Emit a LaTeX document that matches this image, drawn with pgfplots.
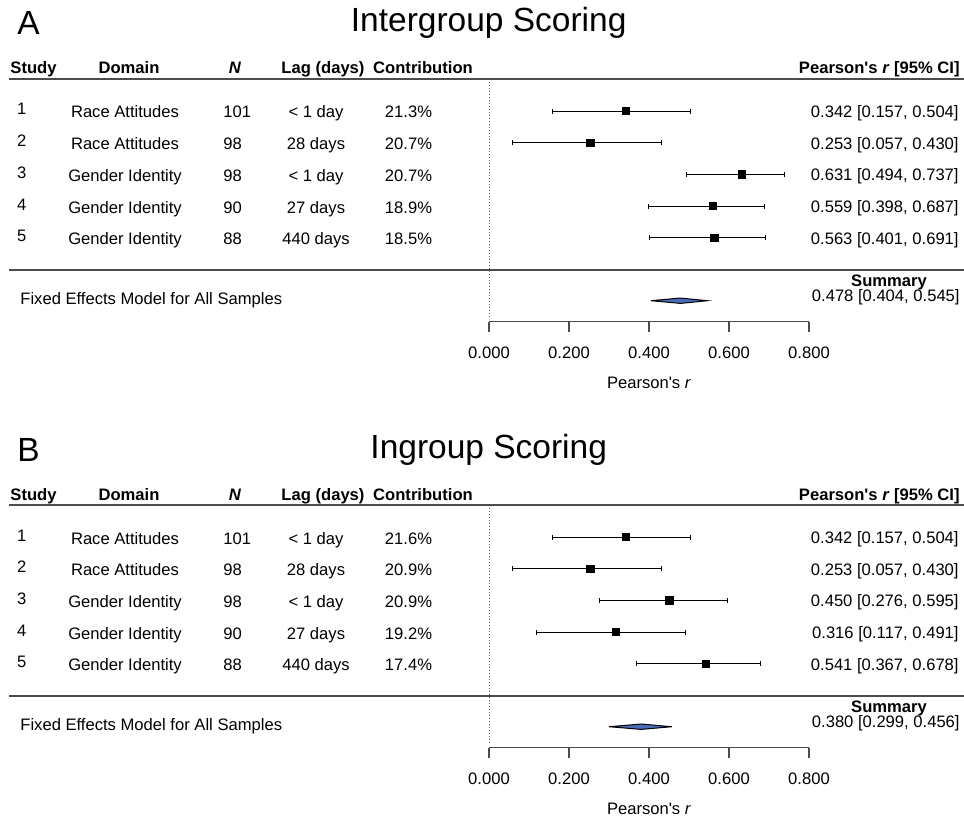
\documentclass[border=0pt]{standalone}
\usepackage{pgfplots}
\usepackage{pgfplotstable}
\pgfplotsset{compat=1.18}
\usepackage{fontspec}
\setmainfont{Liberation Sans}[Ligatures=TeXOff]
\newcommand\fs{\fontsize{8.3pt}{9pt}\selectfont}
\newcommand\fst{\fontsize{16.75pt}{18pt}\selectfont}
\definecolor{diam}{RGB}{74,108,184}

% r, error plus, error minus, row y (pixels from top)
\pgfplotstableread{
r ep em y
0.342 0.162 0.185 111.0
0.253 0.177 0.196 142.7
0.631 0.106 0.137 174.4
0.559 0.128 0.161 206.1
0.563 0.128 0.162 237.8
}\dataA
\pgfplotstableread{
r ep em y
0.342 0.162 0.185 537.0
0.253 0.177 0.196 568.7
0.450 0.145 0.174 600.4
0.316 0.175 0.199 632.1
0.541 0.137 0.174 663.8
}\dataB

\pgfplotsset{
  forest/.style={only marks, mark=square*, mark size=1.85pt, black,
    mark options={solid, fill=black},
    error bars/.cd, x dir=both, x explicit,
    error bar style={line width=0.5pt, black},
    error mark options={rotate=90, mark size=1.25pt, line width=0.5pt, black}},
  raxis/.style={anchor=south west, scale only axis, width=160pt, height=5pt,
    xmin=0, xmax=0.8, ymin=0, ymax=1,
    axis x line*=bottom, axis y line=none,
    xtick={0,0.2,0.4,0.6,0.8}, tick align=outside, major tick length=5pt,
    axis line style={draw=black!70, line width=0.6pt},
    xtick style={draw=black!70, line width=0.6pt},
    xticklabel style={font=\fs, yshift=-4pt, /pgf/number format/fixed, /pgf/number format/fixed zerofill,
      /pgf/number format/precision=3, /pgf/number format/assume math mode=true},
    xlabel={Pearson\textquotesingle s \textit{r}},
    xlabel style={font=\fs, at={(axis description cs:0.5,0)}, anchor=base, yshift=-33.6pt}},
}

\newcommand\panel[4]{%
  \node[anchor=base west, inner sep=0] at (17,35) {\fst #1};
  \node[anchor=base, inner sep=0] at (488.7,32) {\fst #2};
  \begin{scope}[font=\fs\bfseries]
  \node[anchor=base, inner sep=0] at (33.5,74) {Study};
  \node[anchor=base, inner sep=0] at (129,74) {Domain};
  \node[anchor=base, inner sep=0] at (235,74) {\textit{N}};
  \node[anchor=base, inner sep=0] at (323,74) {Lag (days)};
  \node[anchor=base, inner sep=0] at (423,74) {Contribution};
  \node[anchor=base east, inner sep=0] at (960,74) {Pearson\textquotesingle s \textit{r} [95\% CI]};
  \node[anchor=base, inner sep=0] at (889,286) {Summary};
  \end{scope}
  \begin{scope}[font=\fs]
  \foreach \i/\d/\n/\l/\c/\v [count=\k from 0] in {#3} {
    \pgfmathsetmacro\yy{111+31.7*\k}
    \node[anchor=base, inner sep=0] at (21.7,\yy+4) {\i};
    \node[anchor=base, inner sep=0] at (125,\yy+7) {\d};
    \node[anchor=base west, inner sep=0] at (223,\yy+7) {\n};
    \node[anchor=base, inner sep=0] at (316,\yy+7) {\l};
    \node[anchor=base, inner sep=0] at (408.5,\yy+7) {\c\%};
    \node[anchor=base east, inner sep=0] at (959,\yy+6.5) {\v};
  }
  \node[anchor=base west, inner sep=0] at (20,304) {Fixed Effects Model for All Samples};
  \node[anchor=base east, inner sep=0] at (960,301) {#4};
  \end{scope}
}

\begin{document}
\begin{tikzpicture}
\path[use as bounding box] (0,0) rectangle (482pt,408pt);
\begin{axis}[at={(0,0)}, anchor=south west, scale only axis, width=482pt, height=408pt,
  xmin=-1.2225, xmax=1.1875, ymin=0, ymax=816, y dir=reverse, hide axis, clip=false]
  % separator lines
  \addplot[draw=black!70, line width=0.75pt] coordinates {(-1.19925,79) (1.1875,79)};
  \addplot[draw=black!70, line width=0.75pt] coordinates {(-1.19925,270) (1.1875,270)};
  \addplot[draw=black!70, line width=0.75pt] coordinates {(-1.19925,505) (1.1875,505)};
  \addplot[draw=black!70, line width=0.75pt] coordinates {(-1.19925,696) (1.1875,696)};
  % zero reference lines
  \addplot[draw=black!60, line width=0.4pt, dash pattern=on 0.5pt off 1pt] coordinates {(0,82) (0,318)};
  \addplot[draw=black!60, line width=0.4pt, dash pattern=on 0.5pt off 1pt] coordinates {(0,508) (0,744)};
  % studies
  \addplot[forest] table[x=r, y=y, x error plus=ep, x error minus=em] {\dataA};
  \addplot[forest] table[x=r, y=y, x error plus=ep, x error minus=em] {\dataB};
  % summary diamonds
  \addplot[fill=diam, draw=black, line width=0.5pt] coordinates {(0.404,300.7) (0.478,298.0) (0.545,300.7) (0.478,303.4)} -- cycle;
  \addplot[fill=diam, draw=black, line width=0.5pt] coordinates {(0.299,726.7) (0.380,724.0) (0.456,726.7) (0.380,729.4)} -- cycle;
\end{axis}
\begin{axis}[raxis, at={(244.5pt,247.15pt)}]
\end{axis}
\begin{axis}[raxis, at={(244.5pt,34.15pt)}]
\end{axis}
\begin{scope}[x=0.5pt, y=-0.5pt, yshift=408pt]
  \panel{A}{Intergroup Scoring}{1/Race Attitudes/101/{< 1 day}/21.3/{0.342 [0.157, 0.504]},2/Race Attitudes/98/28 days/20.7/{0.253 [0.057, 0.430]},3/Gender Identity/98/{< 1 day}/20.7/{0.631 [0.494, 0.737]},4/Gender Identity/90/27 days/18.9/{0.559 [0.398, 0.687]},5/Gender Identity/88/440 days/18.5/{0.563 [0.401, 0.691]}}{0.478 [0.404, 0.545]}
  \begin{scope}[yshift=-213pt]
  \panel{B}{Ingroup Scoring}{1/Race Attitudes/101/{< 1 day}/21.6/{0.342 [0.157, 0.504]},2/Race Attitudes/98/28 days/20.9/{0.253 [0.057, 0.430]},3/Gender Identity/98/{< 1 day}/20.9/{0.450 [0.276, 0.595]},4/Gender Identity/90/27 days/19.2/{0.316 [0.117, 0.491]},5/Gender Identity/88/440 days/17.4/{0.541 [0.367, 0.678]}}{0.380 [0.299, 0.456]}
  \end{scope}
\end{scope}
\end{tikzpicture}
\end{document}
